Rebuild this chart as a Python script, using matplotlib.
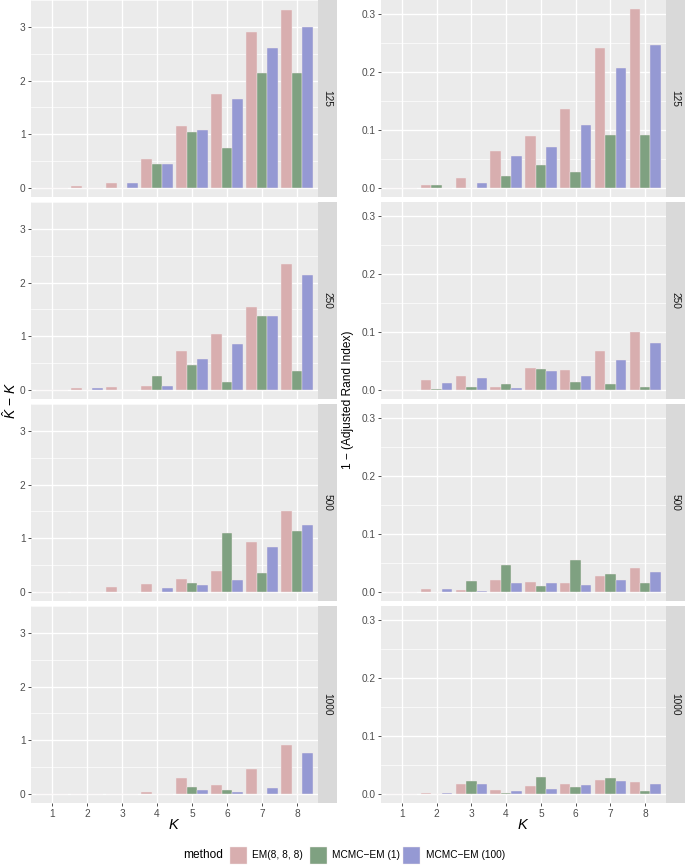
import numpy as np
import matplotlib
matplotlib.use("Agg")
import matplotlib.pyplot as plt
from matplotlib.patches import Rectangle

plt.rcParams['font.family'] = ['Liberation Sans', 'DejaVu Sans']
plt.rcParams['mathtext.fontset'] = 'custom'
plt.rcParams['mathtext.it'] = 'Liberation Sans:italic'
plt.rcParams['mathtext.rm'] = 'Liberation Sans'

# -------------------------------------------
# data

K_values = [1, 2, 3, 4, 5, 6, 7, 8]
sample_sizes = ['125', '250', '500', '1000']
methods = ['EM(8, 8, 8)', 'MCMC\u2212EM (1)', 'MCMC\u2212EM (100)']
method_colors = ['#D8AEAF', '#7FA181', '#9599D3']

# K_hat - K, per sample size, per method (EM, MCMC-EM(1), MCMC-EM(100))
khat_125 = [
    [0, 0.04, 0.10, 0.54, 1.16, 1.75, 2.90, 3.32],
    [0, 0.00, 0.00, 0.45, 1.04, 0.75, 2.15, 2.15],
    [0, 0.00, 0.10, 0.45, 1.08, 1.65, 2.60, 3.00],
]
khat_250 = [
    [0, 0.04, 0.05, 0.07, 0.73, 1.05, 1.55, 2.35],
    [0, 0.00, 0.00, 0.27, 0.47, 0.15, 1.37, 0.35],
    [0, 0.04, 0.00, 0.07, 0.57, 0.85, 1.38, 2.14],
]
khat_500 = [
    [0, 0.005, 0.09, 0.15, 0.24, 0.40, 0.94, 1.50],
    [0, 0.00, 0.00, 0.00, 0.16, 1.10, 0.36, 1.14],
    [0, 0.00, 0.00, 0.07, 0.14, 0.22, 0.83, 1.25],
]
khat_1000 = [
    [0, 0.005, 0.005, 0.03, 0.30, 0.16, 0.46, 0.92],
    [0, 0.00, 0.00, 0.00, 0.14, 0.07, 0.00, 0.00],
    [0, 0.00, 0.00, 0.00, 0.07, 0.04, 0.11, 0.76],
]

# 1 - ARI
ari_125 = [
    [0, 0.005, 0.018, 0.064, 0.089, 0.136, 0.242, 0.309],
    [0, 0.005, 0.000, 0.020, 0.039, 0.027, 0.091, 0.091],
    [0, 0.000, 0.009, 0.055, 0.070, 0.109, 0.207, 0.247],
]
ari_250 = [
    [0, 0.018, 0.025, 0.006, 0.038, 0.035, 0.068, 0.100],
    [0, 0.002, 0.005, 0.011, 0.036, 0.014, 0.011, 0.005],
    [0, 0.012, 0.020, 0.003, 0.032, 0.024, 0.052, 0.082],
]
ari_500 = [
    [0, 0.006, 0.003, 0.021, 0.018, 0.015, 0.027, 0.042],
    [0, 0.000, 0.019, 0.047, 0.010, 0.055, 0.031, 0.015],
    [0, 0.006, 0.002, 0.015, 0.015, 0.012, 0.020, 0.034],
]
ari_1000 = [
    [0, 0.002, 0.018, 0.007, 0.014, 0.017, 0.024, 0.020],
    [0, 0.000, 0.023, 0.002, 0.029, 0.012, 0.027, 0.005],
    [0, 0.002, 0.017, 0.006, 0.008, 0.015, 0.022, 0.017],
]

khat_data = [khat_125, khat_250, khat_500, khat_1000]
ari_data = [ari_125, ari_250, ari_500, ari_1000]

# -------------------------------------------
# layout (pixels)

W, H = 685, 865
fig = plt.figure(figsize=(W / 100, H / 100), dpi=100)
fig.patch.set_facecolor('white')


def add_px_axes(x0, y0, w, h):
    return fig.add_axes([x0 / W, 1 - (y0 + h) / H, w / W, h / H])


row_tops = [0, 202, 404, 606]
row_h = 197
columns = [
    dict(x0=31, x1=318, data=khat_data, ylim=(-0.166, 3.486), ticks=[0, 1, 2, 3],
         minor=[0.5, 1.5, 2.5, 3.5], fmt='{:g}'),
    dict(x0=381, x1=666, data=ari_data, ylim=(-0.0155, 0.3245), ticks=[0.0, 0.1, 0.2, 0.3],
         minor=[0.05, 0.15, 0.25], fmt='{:.1f}'),
]
strip_w = 19
bar_w = 0.3
tick_col = '#4D4D4D'

for col in columns:
    for r, top in enumerate(row_tops):
        ax = add_px_axes(col['x0'], top, col['x1'] - col['x0'], row_h)
        ax.set_facecolor('#EBEBEB')
        ax.set_xlim(0.4, 8.6)
        ax.set_ylim(*col['ylim'])
        ax.set_yticks(col['ticks'])
        ax.set_yticklabels([col['fmt'].format(t) for t in col['ticks']])
        ax.set_yticks(col['minor'], minor=True)
        ax.set_xticks(K_values)
        ax.grid(which='major', color='white', lw=1.0)
        ax.grid(which='minor', axis='y', color='white', lw=0.5)
        ax.set_axisbelow(True)
        for s in ax.spines.values():
            s.set_visible(False)
        ax.tick_params(axis='y', which='major', length=2.5, width=0.6, color='#333333',
                       labelsize=7.3, labelcolor=tick_col, pad=1.5)
        ax.tick_params(axis='y', which='minor', length=0)
        if r == 3:
            ax.tick_params(axis='x', length=2.5, width=0.6, color='#333333',
                           labelsize=7.3, labelcolor=tick_col, pad=1.5)
            ax.set_xticklabels([str(k) for k in K_values])
        else:
            ax.tick_params(axis='x', length=0, labelbottom=False)

        x = np.array(K_values, dtype=float)
        for j, vals in enumerate(col['data'][r]):
            ax.bar(x + (j - 1) * bar_w, vals, width=bar_w, color=method_colors[j],
                   edgecolor='#F2E9EA', linewidth=0.3)

        sax = add_px_axes(col['x1'], top, strip_w, row_h)
        sax.set_facecolor('#D9D9D9')
        sax.set_xticks([])
        sax.set_yticks([])
        for s in sax.spines.values():
            s.set_visible(False)
        sax.text(0.5, 0.5, sample_sizes[r], rotation=270, ha='center', va='center',
                 fontsize=7.3, color='#1A1A1A', transform=sax.transAxes)

# axis titles
fig.text(10 / W, 1 - 400 / H, r'$\hat{K}\,-\,K$', rotation=90, ha='center', va='center',
         fontsize=10, color='black')
fig.text(348 / W, 1 - 400 / H, '1 \u2212 (Adjusted Rand Index)', rotation=90,
         ha='center', va='center', fontsize=8.6, color='black')
fig.text(174 / W, 1 - 825 / H, r'$K$', ha='center', va='center', fontsize=10.5, color='black')
fig.text(523 / W, 1 - 825 / H, r'$K$', ha='center', va='center', fontsize=10.5, color='black')

# legend
legend_y = 855.5
fig.text(183 / W, 1 - legend_y / H, 'method', ha='left', va='center', fontsize=8.6)
key_x = [230, 310, 403]
label_x = [252, 332, 426]
for j, m in enumerate(methods):
    fig.patches.append(Rectangle((key_x[j] / W, 1 - (legend_y + 8.5) / H), 17 / W, 17 / H,
                                 transform=fig.transFigure, facecolor=method_colors[j],
                                 edgecolor='#F2E9EA', linewidth=0.3))
    fig.text(label_x[j] / W, 1 - legend_y / H, m, ha='left', va='center', fontsize=7.3)

fig.savefig('out.png', dpi=100)
